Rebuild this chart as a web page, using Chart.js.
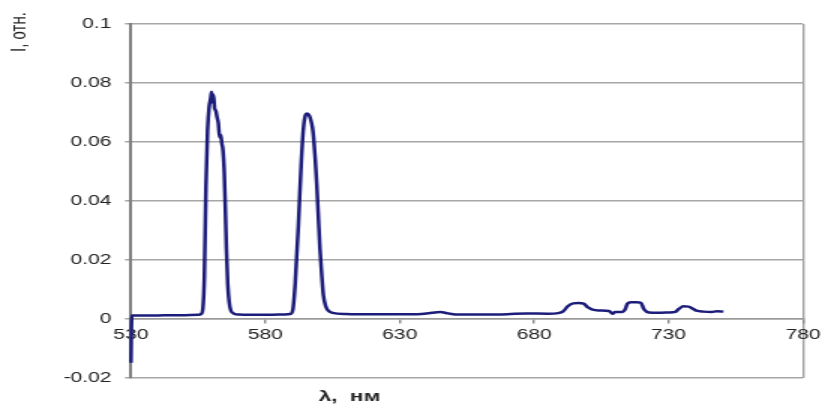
<!DOCTYPE html>
<html>
<head>
<meta charset="utf-8">
<script src="https://cdn.jsdelivr.net/npm/chart.js@4.4.1/dist/chart.umd.min.js"></script>
<style>
body { margin:0; background:#fff; overflow:hidden; }
#spectrum { transform: scaleX(1.5); transform-origin: 0 0; }
</style>
</head>
<body>
<canvas id="spectrum" width="551" height="413"></canvas>
<script>
// wavelength, nm
var wavelength = [530, 530.3, 535, 540, 545, 550, 555, 556.2, 556.8, 557.3, 557.9, 558.5, 559.1, 559.6, 560.0, 560.3, 560.7, 561.1, 561.6, 562.0, 562.5, 563.0, 563.4, 563.8, 564.2, 564.7, 565.1, 565.5, 566.0, 566.5, 567.2, 568.4, 570, 575, 580, 585, 589.3, 590.2, 591.1, 592.3, 593.3, 594.2, 595.0, 595.6, 596.3, 596.9, 597.5, 597.9, 598.5, 599.1, 599.7, 600.3, 601.0, 601.6, 602.4, 603.4, 605, 610, 620, 630, 638, 642, 645, 648, 652, 660, 670, 677, 685, 689, 690.8, 692.5, 694.5, 696.5, 698.4, 700, 701.4, 704, 707.8, 709.2, 710, 712.9, 713.8, 714.7, 716, 718, 719.7, 720.9, 722.7, 726, 730, 732.5, 733.8, 735.6, 737.4, 739, 740.4, 743, 746, 748, 750.4];
// relative intensity
var intensity = [-0.0148, 0.0012, 0.0012, 0.0012, 0.0013, 0.0013, 0.0014, 0.0018, 0.004, 0.014, 0.045, 0.064, 0.072, 0.0745, 0.077, 0.0735, 0.076, 0.0715, 0.0705, 0.0685, 0.0665, 0.0615, 0.0625, 0.0595, 0.0575, 0.050, 0.038, 0.024, 0.012, 0.006, 0.0028, 0.0018, 0.0015, 0.0014, 0.0014, 0.0015, 0.0017, 0.003, 0.012, 0.032, 0.052, 0.065, 0.0693, 0.0697, 0.069, 0.0675, 0.065, 0.062, 0.055, 0.046, 0.035, 0.024, 0.0145, 0.008, 0.0045, 0.0028, 0.0021, 0.0017, 0.0016, 0.0016, 0.0017, 0.0021, 0.0024, 0.0019, 0.0015, 0.0015, 0.0016, 0.0019, 0.0018, 0.002, 0.0026, 0.0043, 0.0053, 0.0054, 0.0052, 0.0039, 0.0033, 0.0029, 0.0027, 0.0018, 0.0024, 0.0024, 0.0032, 0.0052, 0.0057, 0.0057, 0.0055, 0.0032, 0.0022, 0.0021, 0.0022, 0.0024, 0.0034, 0.0043, 0.0042, 0.0035, 0.0028, 0.0025, 0.0024, 0.0026, 0.0025];

var xTitle = 'λ,  нм';
var yTitle = 'I, отн.';

var points = [];
for (var i = 0; i < wavelength.length; i++) {
    points.push({x: wavelength[i], y: intensity[i]});
}

// axis titles sit outside the usual places, so draw them by hand
var axisTitles = {
    id: 'axisTitles',
    afterDraw: function(chart) {
        var c = chart.ctx;
        c.save();
        c.fillStyle = '#222';
        c.textAlign = 'center';
        c.textBaseline = 'middle';
        c.font = 'bold 15px "Liberation Sans", Arial, sans-serif';
        c.fillText(xTitle, 233, 397);
        c.translate(13, 32);
        c.rotate(-Math.PI / 2);
        c.font = '15px "Liberation Sans", Arial, sans-serif';
        c.fillText(yTitle, 0, 0);
        c.restore();
    }
};

var ctx = document.getElementById('spectrum').getContext('2d');
new Chart(ctx, {
    type: 'line',
    data: {
        datasets: [{
            data: points,
            borderColor: '#1c1c7a',
            borderWidth: 2.5,
            pointRadius: 0,
            cubicInterpolationMode: 'monotone',
            clip: 6
        }]
    },
    options: {
        responsive: false,
        animation: false,
        devicePixelRatio: 1,
        layout: { padding: { left: 0, right: 12, top: 24, bottom: 35 } },
        plugins: { legend: { display: false }, tooltip: { enabled: false } },
        scales: {
            x: {
                type: 'linear',
                position: { y: 0 },
                min: 530,
                max: 780,
                ticks: {
                    stepSize: 50,
                    padding: 4,
                    color: '#222',
                    font: { family: '"Liberation Sans", Arial, sans-serif', size: 14 }
                },
                grid: {
                    drawOnChartArea: true,
                    color: function(c) { return c.tick && c.tick.value === 780 ? '#a0a0a0' : 'rgba(0,0,0,0)'; },
                    tickColor: '#8a8a8a',
                    lineWidth: 1.4,
                    tickLength: 4
                },
                border: { color: '#9a9a9a', width: 1.5 }
            },
            y: {
                min: -0.02,
                max: 0.1,
                afterFit: function(scale) { scale.width = 87.3; },
                ticks: {
                    stepSize: 0.02,
                    padding: 9,
                    color: '#222',
                    font: { family: '"Liberation Sans", Arial, sans-serif', size: 14 },
                    callback: function(v) { return String(+v.toFixed(2)); }
                },
                grid: { color: '#a6a6a6', lineWidth: 1.5, tickLength: 4 },
                border: { color: '#7f7f7f', width: 2 }
            }
        }
    },
    plugins: [axisTitles]
});
</script>
</body>
</html>
